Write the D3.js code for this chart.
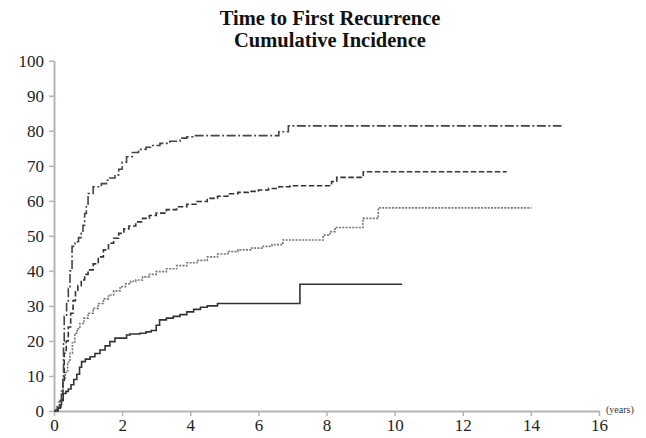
<!DOCTYPE html>
<html>
<head>
<meta charset="utf-8">
<script src="https://cdn.jsdelivr.net/npm/d3@7"></script>
<style>
  html, body { margin: 0; padding: 0; background: #fff; }
  svg { display: block; }
</style>
</head>
<body>
<svg id="chart" width="646" height="438"></svg>
<script>
// ---- Data ----
const titleLines = ["Time to First Recurrence", "Cumulative Incidence"];
const xTicks = [0, 2, 4, 6, 8, 10, 12, 14, 16];
const yTicks = [0, 10, 20, 30, 40, 50, 60, 70, 80, 90, 100];
const xUnitLabel = "(years)";

// Dash-dot series (highest)
const dashDotTimes  = [0, 0.1, 0.18, 0.22, 0.26, 0.28, 0.3, 0.37, 0.42, 0.47, 0.53, 0.62, 0.72, 0.8, 0.85, 0.9, 0.95, 1.0, 1.15, 1.39, 1.54, 1.64, 1.79, 1.9, 2.0, 2.13, 2.3, 2.48, 2.7, 2.9, 3.11, 3.4, 3.7, 3.9, 4.08, 6.6, 6.88, 14.9];
const dashDotValues = [0, 1, 3, 5, 9, 20, 27, 30.7, 35, 40, 47, 48.3, 49.5, 50.7, 53, 56.4, 59, 62.1, 64, 64.9, 65.9, 66.5, 67.4, 69, 71, 72.6, 73.8, 74.7, 75.3, 75.8, 76.4, 77, 77.9, 78.3, 78.6, 79.7, 81.4, 81.4];

// Dashed series
const dashedTimes  = [0, 0.12, 0.2, 0.26, 0.3, 0.36, 0.42, 0.49, 0.56, 0.63, 0.7, 0.8, 0.9, 1.0, 1.15, 1.3, 1.45, 1.6, 1.75, 1.9, 2.05, 2.2, 2.4, 2.6, 2.8, 3.0, 3.3, 3.6, 3.9, 4.2, 4.5, 4.8, 5.1, 5.4, 5.7, 6.0, 6.3, 6.6, 6.93, 8.15, 8.3, 9.08, 13.29];
const dashedValues = [0, 1, 3, 8, 16.5, 20, 24, 27.9, 31.5, 34.5, 35.8, 37.4, 39, 40.3, 42, 44, 46, 47.9, 49.3, 50.7, 52, 52.8, 54, 55, 55.8, 56.5, 57.5, 58.3, 59, 59.8, 60.7, 61.3, 62, 62.4, 62.7, 63.1, 63.5, 64, 64.3, 65.5, 66.7, 68.3, 68.3];

// Dotted series
const dottedTimes  = [0, 0.08, 0.15, 0.22, 0.27, 0.33, 0.4, 0.47, 0.54, 0.61, 0.68, 0.76, 0.88, 1.0, 1.15, 1.3, 1.45, 1.6, 1.75, 1.94, 2.1, 2.25, 2.4, 2.6, 2.8, 3.0, 3.3, 3.6, 3.9, 4.2, 4.5, 4.8, 5.1, 5.4, 5.8, 6.1, 6.4, 6.72, 7.9, 8.1, 8.25, 9.07, 9.52, 14.02];
const dottedValues = [0, 1.2, 3, 6, 8.8, 11, 14, 16.5, 19.5, 22.2, 23.5, 25, 26.5, 27.9, 29.3, 30.7, 32, 33.1, 34.3, 35.5, 36.3, 37, 37.4, 38.3, 39, 39.8, 40.6, 41.5, 42.3, 43, 44, 44.8, 45.5, 46, 46.5, 47, 47.5, 48.8, 50.2, 51.2, 52.4, 55.0, 58.0, 58.0];

// Solid series (lowest)
const solidTimes  = [0, 0.05, 0.12, 0.18, 0.22, 0.27, 0.35, 0.42, 0.5, 0.58, 0.67, 0.75, 0.81, 0.92, 1.06, 1.2, 1.35, 1.5, 1.64, 1.79, 2.13, 2.23, 2.52, 2.7, 2.85, 3.0, 3.1, 3.3, 3.5, 3.7, 3.9, 4.1, 4.3, 4.5, 4.8, 7.22, 10.22];
const solidValues = [0, 0.3, 0.8, 1.7, 3, 5, 5.6, 6.3, 7.5, 9, 10.5, 12.5, 14.1, 14.8, 15.5, 16.4, 17.4, 18.6, 19.8, 20.8, 21.7, 22, 22.2, 22.6, 23, 24.5, 26, 26.5, 27, 27.5, 28.3, 29, 29.6, 30, 30.7, 36.2, 36.2];

// ---- Drawing ----
const svg = d3.select("#chart");
const serif = "'Liberation Serif', 'Times New Roman', serif";

const x = d3.scaleLinear().domain([0, 16]).range([54, 599]);
const y = d3.scaleLinear().domain([0, 100]).range([411, 60.7]);

// Title
svg.append("g").selectAll("text").data(titleLines).join("text")
  .attr("x", 330)
  .attr("y", (d, i) => 25 + i * 22)
  .attr("text-anchor", "middle")
  .attr("font-family", serif)
  .attr("font-weight", "bold")
  .attr("font-size", 20.5)
  .attr("fill", "#111")
  .text(d => d);

const axisColor = "#b4b4b4";

// X axis
const xAxis = svg.append("g")
  .attr("transform", `translate(0,${y(0)})`)
  .call(d3.axisBottom(x).tickValues(xTicks).tickFormat(d3.format("d")).tickSizeInner(5).tickSizeOuter(0).tickPadding(3));
// Y axis
const yAxis = svg.append("g")
  .attr("transform", `translate(${x(0)},0)`)
  .call(d3.axisLeft(y).tickValues(yTicks).tickFormat(d3.format("d")).tickSizeInner(5).tickSizeOuter(0).tickPadding(5));

[xAxis, yAxis].forEach(g => {
  g.attr("font-family", serif).attr("font-size", 17);
  g.select(".domain").attr("stroke", axisColor).attr("stroke-width", 2);
  g.selectAll(".tick line").attr("stroke", axisColor).attr("stroke-width", 1.5);
  g.selectAll(".tick text")
    .attr("font-family", serif)
    .attr("font-size", 17)
    .attr("fill", "#222");
});

svg.append("text")
  .attr("x", 606)
  .attr("y", 413)
  .attr("font-family", serif)
  .attr("font-size", 10)
  .attr("fill", "#333")
  .text(xUnitLabel);

// Curves
const series = [
  { times: dottedTimes,  values: dottedValues,  color: "#777", width: 1.6, dash: "2,1.3" },
  { times: solidTimes,   values: solidValues,   color: "#333", width: 1.6, dash: null },
  { times: dashedTimes,  values: dashedValues,  color: "#333", width: 1.6, dash: "5.5,2.5" },
  { times: dashDotTimes, values: dashDotValues, color: "#444", width: 1.6, dash: "9,2.5,2,2.5" }
];

const line = d3.line()
  .x(d => x(d[0]))
  .y(d => y(d[1]))
  .curve(d3.curveStepAfter);

svg.append("g").selectAll("path").data(series).join("path")
  .attr("d", s => line(d3.zip(s.times, s.values)))
  .attr("fill", "none")
  .attr("stroke", s => s.color)
  .attr("stroke-width", s => s.width)
  .attr("stroke-dasharray", s => s.dash);
</script>
</body>
</html>
